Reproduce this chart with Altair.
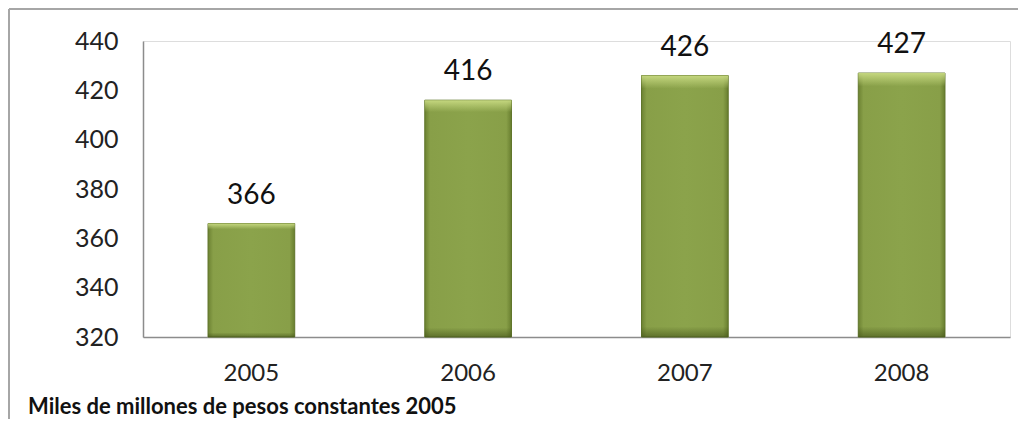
import altair as alt
import pandas as pd

years = ["2005", "2006", "2007", "2008"]
values = [366, 416, 426, 427]
y_ticks = [320, 340, 360, 380, 400, 420, 440]
footer = "Miles de millones de pesos constantes 2005"

df = pd.DataFrame({"year": years, "value": values})

FONT = "Lato"
PLOT_W = 867
PLOT_H = 296

side_fill = alt.LinearGradient(
    gradient="linear",
    x1=0, x2=1, y1=0, y2=0,
    stops=[
        alt.GradientStop(color="#6c8232", offset=0),
        alt.GradientStop(color="#889f48", offset=0.06),
        alt.GradientStop(color="#8ba34b", offset=0.5),
        alt.GradientStop(color="#889f48", offset=0.94),
        alt.GradientStop(color="#687e2f", offset=1),
    ],
)
bevel_fill = alt.LinearGradient(
    gradient="linear",
    x1=0, x2=0, y1=0, y2=1,
    stops=[
        alt.GradientStop(color="rgba(200,218,130,0.95)", offset=0),
        alt.GradientStop(color="rgba(200,218,130,0.0)", offset=0.05),
        alt.GradientStop(color="rgba(60,75,20,0.0)", offset=0.96),
        alt.GradientStop(color="rgba(60,75,20,0.55)", offset=1),
    ],
)

x_enc = alt.X(
    "year:N",
    sort=years,
    scale=alt.Scale(paddingInner=0.6, paddingOuter=0.3),
    axis=alt.Axis(
        title=None, labelAngle=0, ticks=False, domainColor="#8c8c8c", domainWidth=1.5,
        labelFont=FONT, labelFontSize=24, labelColor="#222222", labelPadding=24,
    ),
)
y_scale = alt.Scale(domain=[320, 440], zero=False, nice=False)

base = alt.Chart(df)

bars = base.mark_bar(color=side_fill, stroke="#5f742a", strokeWidth=1).encode(
    x=x_enc,
    y=alt.Y(
        "value:Q",
        scale=y_scale,
        axis=alt.Axis(
            title=None, values=y_ticks, ticks=False, grid=False, domainColor="#8c8c8c",
            domainWidth=1.5, labelFont=FONT, labelFontSize=25, labelColor="#222222",
            labelPadding=25,
        ),
    ),
    y2=alt.datum(320),
)

bevel = base.mark_bar(color=bevel_fill).encode(
    x=alt.X("year:N", sort=years),
    y=alt.Y("value:Q", scale=y_scale),
    y2=alt.datum(320),
)

labels = base.mark_text(
    font=FONT, fontSize=28, color="#111111", baseline="alphabetic", dy=-20
).encode(
    x=alt.X("year:N", sort=years),
    y=alt.Y("value:Q", scale=y_scale),
    text=alt.Text("value:Q"),
)

foot = alt.Chart(pd.DataFrame({"t": [footer]})).mark_text(
    font=FONT, fontSize=22, fontWeight="bold", color="#111111", align="left",
    baseline="alphabetic",
).encode(x=alt.value(-115), y=alt.value(373), text="t:N")

frame_top = alt.Chart(pd.DataFrame({"a": [0]})).mark_rule(color="#a6a6a6", strokeWidth=2).encode(
    x=alt.value(-134), x2=alt.value(875), y=alt.value(-32)
)
frame_left = alt.Chart(pd.DataFrame({"a": [0]})).mark_rule(color="#a6a6a6", strokeWidth=2).encode(
    x=alt.value(-134), y=alt.value(-32), y2=alt.value(382)
)

chart = (
    alt.layer(frame_top, frame_left, bars, bevel, labels, foot)
    .properties(
        width=PLOT_W,
        height=PLOT_H,
        autosize=alt.AutoSizeParams(type="none"),
        padding={"left": 135, "top": 33, "right": 8, "bottom": 82},
    )
    .configure_view(stroke=None)
    .configure(background="white")
)

chart.save("out.html", embed_options={"renderer": "svg", "actions": False})
